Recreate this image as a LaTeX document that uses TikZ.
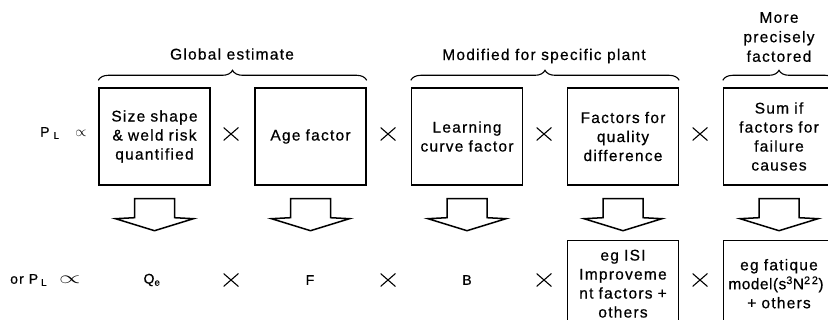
\documentclass[tikz,border=0pt]{standalone}
\usepackage{fontspec}
\setmainfont{Liberation Sans}[LetterSpace=8, FakeBold=0.6]
\usetikzlibrary{decorations.pathreplacing,calc}

\tikzset{
  factorbox/.style={draw, line width=1.4pt, minimum width=111pt, minimum height=97pt,
    inner sep=0pt, align=center, text width=108pt,
    font=\fontsize{15.5}{19}\selectfont},
  lowbox/.style={factorbox, minimum height=86pt},
  heading/.style={align=center, font=\fontsize{15.5}{19.5}\selectfont, inner sep=0pt},
  term/.style={font=\fontsize{14}{16}\selectfont, inner sep=0pt},
  timessign/.style={minimum width=15pt, minimum height=13pt, inner sep=0pt,
    path picture={\draw[line width=1.1pt]
      (path picture bounding box.south west) -- (path picture bounding box.north east)
      (path picture bounding box.north west) -- (path picture bounding box.south east);}},
  groupbrace/.style={decorate, decoration={brace, amplitude=10pt}, line width=1.1pt},
  downarrow/.pic={\draw[line width=1.5pt, line join=miter]
      (-20,0) -- (20,0) -- (20,19) -- (39,20) -- (0,32) -- (-39,20) -- (-20,19) -- cycle;}
}

\begin{document}
\begin{tikzpicture}[x=1pt, y=-1pt]
\useasboundingbox (0,0) rectangle (828,320);
\clip (0,0) rectangle (828,320);

% upper row of factor boxes
\node[factorbox] (b1) at (154.5,136.5) {Size shape\\ \& weld risk\\ quantified};
\node[factorbox] (b2) at (310.5,136.5) {Age factor};
\node[factorbox] (b3) at (467,136.5) {Learning\\ curve factor};
\node[factorbox] (b4) at (623,136.5) {Factors for\\ quality\\ difference};
\node[factorbox] (b5) at (779,136.5) {Sum if\\ factors for\\ failure\\ causes};

% proportionality sign and products, upper row
\node[term, anchor=west] (p1) at (40,133) {P\hspace{4pt}\textsubscript{L}\hspace{16pt}$\propto$};
\node[timessign] (x1) at (231,134) {};
\node[timessign] (x2) at (388,134) {};
\node[timessign] (x3) at (544,134) {};
\node[timessign] (x4) at (700,134) {};

% group braces and headings
\path (b1.north west) ++(0,-7) coordinate (g1a) (b2.north east) ++(0,-7) coordinate (g1b);
\draw[groupbrace] (g1a) -- (g1b);
\path (b3.north west) ++(0,-7) coordinate (g2a) (b4.north east) ++(0,-7) coordinate (g2b);
\draw[groupbrace] (g2a) -- (g2b);
\path (b5.north west) ++(0,-7) coordinate (g3a) (b5.north east) ++(0,-7) coordinate (g3b);
\draw[groupbrace] (g3a) -- (g3b);
\node[heading] (h1) at (232,54) {Global estimate};
\node[heading] (h2) at (544,56) {Modified for specific plant};
\node[heading] (h3) at (779,37) {More\\ precisely\\ factored};

% hollow arrows from each box to the lower row
\pic at ($(b1.south)+(0,13)$) {downarrow};
\pic at ($(b2.south)+(0,13)$) {downarrow};
\pic at ($(b3.south)+(0,13)$) {downarrow};
\pic at ($(b4.south)+(0,13)$) {downarrow};
\pic at ($(b5.south)+(0,13)$) {downarrow};

% lower row
\node[term, anchor=west] (p2) at (10,280) {or P\hspace{3pt}\textsubscript{L}\hspace{12pt}\scalebox{1.9}[1.2]{$\propto$}};
\node[term] (qe) at (152,280) {Q\textsubscript{e}};
\node[timessign] (y1) at (231,280) {};
\node[term] (ff) at (310,280) {F};
\node[timessign] (y2) at (388,280) {};
\node[term] (bb) at (467,280) {B};
\node[timessign] (y3) at (544,280) {};
\node[lowbox, anchor=north] (c4) at (623,240) {eg ISI\\ Improveme\\ nt factors +\\ others};
\node[timessign] (y4) at (700,280) {};
\node[lowbox, anchor=north] (c5) at (779,240)
  {eg fatique\\ \hspace*{-6pt}{\addfontfeatures{LetterSpace=3}model(s\textsuperscript{3}N\textsuperscript{2\,2})}\\ + others};
\end{tikzpicture}
\end{document}
